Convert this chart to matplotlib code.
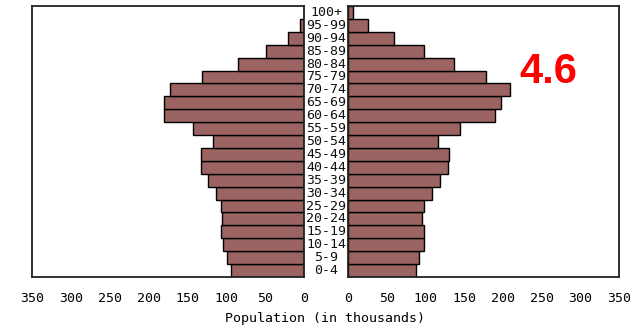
import matplotlib
matplotlib.use("Agg")
import matplotlib.pyplot as plt

# age groups, youngest first
ages = ["0-4", "5-9", "10-14", "15-19", "20-24", "25-29", "30-34", "35-39",
        "40-44", "45-49", "50-54", "55-59", "60-64", "65-69", "70-74",
        "75-79", "80-84", "85-89", "90-94", "95-99", "100+"]

# population in thousands
male = [94, 99, 104, 107, 106, 107, 113, 124, 133, 133, 117, 143, 180, 180,
        173, 131, 85, 49, 21, 5, 0]
female = [88, 92, 98, 98, 96, 98, 108, 119, 129, 131, 116, 145, 190, 198,
          209, 178, 137, 98, 60, 26, 6]

ticks = [0, 50, 100, 150, 200, 250, 300, 350]
bar_color = "#9b6361"
mono = "DejaVu Sans Mono"

fig = plt.figure(figsize=(6.3, 3.28), dpi=100)
ax_l = fig.add_axes([0.0508, 0.1555, 0.4317, 0.8262])
ax_r = fig.add_axes([0.5524, 0.1555, 0.4300, 0.8262])

y = range(len(ages))

ax_l.barh(y, male, height=1.0, color=bar_color, edgecolor="black", linewidth=1.0)
ax_r.barh(y, female, height=1.0, color=bar_color, edgecolor="black", linewidth=1.0)

ax_l.set_xlim(350, 0)
ax_r.set_xlim(0, 350)

for ax in (ax_l, ax_r):
    ax.set_ylim(-0.5, len(ages) - 0.5)
    ax.set_yticks([])
    ax.set_xticks(ticks)
    ax.set_xticklabels([str(t) for t in ticks], fontfamily=mono, fontsize=9.5)
    ax.tick_params(axis="x", length=0, pad=11)
    for s in ax.spines.values():
        s.set_linewidth(1.3)
        s.set_color("#222222")

# age labels between the two panels
for i, a in enumerate(ages):
    yy = ax_l.transData.transform((0, i))[1]
    fx, fy = fig.transFigure.inverted().transform((0, yy))
    fig.text(0.5175, fy, a, ha="center", va="center", fontfamily=mono,
             fontsize=9.5, color="#111111")

fig.text(0.516, 0.03, "Population (in thousands)", ha="center", va="center",
         fontfamily=mono, fontsize=9.5)

fig.text(0.87, 0.78, "4.6", ha="center", va="center", color="#ff0000",
         fontsize=30, fontweight="bold", fontfamily="Liberation Sans")

fig.savefig("out.png", dpi=100)
